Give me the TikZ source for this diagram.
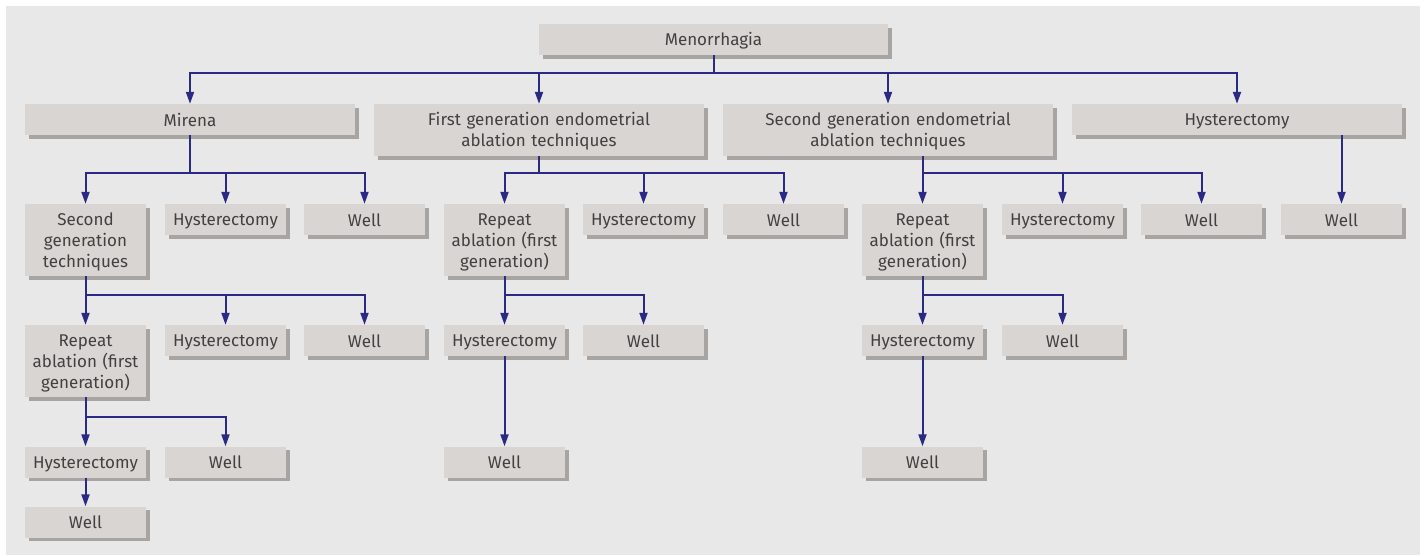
\documentclass[tikz,border=0pt]{standalone}
\usepackage{fontspec}
\setmainfont{Fira Sans}
\usetikzlibrary{arrows.meta,shadows}
\definecolor{panelgray}{HTML}{E8E8E8}
\definecolor{boxgray}{HTML}{D9D5D2}
\definecolor{boxshade}{HTML}{A8A4A2}
\definecolor{linkblue}{HTML}{2A2A85}
\definecolor{textgray}{HTML}{444040}
\newcommand{\boxstrut}{\rule[-3pt]{0pt}{19pt}}
\tikzset{
  box/.style={fill=boxgray, text=textgray, align=center, inner xsep=1pt, inner ysep=0pt,
    text width=119pt, minimum height=31pt,
    font=\fontsize{17}{21}\selectfont,
    execute at begin node=\boxstrut, execute at end node=\boxstrut,
    drop shadow={shadow xshift=3.5pt, shadow yshift=-3.5pt, fill=boxshade, opacity=1}},
  widebox/.style={box, text width=328pt},
  topbox/.style={box, text width=347pt},
  link/.style={draw=linkblue, line width=2pt},
  arr/.style={link, -{Triangle[length=12pt,width=8pt]}}
}
\begin{document}
\begin{tikzpicture}[x=1pt,y=-1pt]
\useasboundingbox (0,0) rectangle (1426,555);
\fill[panelgray] (6,6) rectangle (1420,555);

% top levels
\node[topbox] (men) at (713.5,39.5) {Menorrhagia};
\node[widebox] (mir) at (190,119.5) {Mirena};
\node[widebox, minimum height=52pt] (fg) at (539,130) {First generation endometrial\\ablation techniques};
\node[widebox, minimum height=52pt] (sg) at (888,130) {Second generation endometrial\\ablation techniques};
\node[widebox] (hys) at (1237,119.5) {Hysterectomy};

% second row
\node[box, minimum height=72pt] (m1) at (85.5,240) {Second\\generation\\techniques};
\node[box] (m2) at (225.5,219.5) {Hysterectomy};
\node[box] (m3) at (364.5,219.5) {Well};
\node[box, minimum height=72pt] (f1) at (504.5,240) {Repeat\\ablation (first\\generation)};
\node[box] (f2) at (643.5,219.5) {Hysterectomy};
\node[box] (f3) at (783.5,219.5) {Well};
\node[box, minimum height=72pt] (s1) at (922.5,240) {Repeat\\ablation (first\\generation)};
\node[box] (s2) at (1062.5,219.5) {Hysterectomy};
\node[box] (s3) at (1201.5,219.5) {Well};
\node[box] (h1) at (1341.5,219.5) {Well};

% third row
\node[box, minimum height=72pt] (m1a) at (85.5,361) {Repeat\\ablation (first\\generation)};
\node[box] (m1b) at (225.5,340.5) {Hysterectomy};
\node[box] (m1c) at (364.5,340.5) {Well};
\node[box] (f1a) at (504.5,340.5) {Hysterectomy};
\node[box] (f1b) at (643.5,340.5) {Well};
\node[box] (s1a) at (922.5,340.5) {Hysterectomy};
\node[box] (s1b) at (1062.5,340.5) {Well};

% fourth and fifth rows
\node[box] (m1a1) at (85.5,462) {Hysterectomy};
\node[box] (m1a2) at (225.5,462) {Well};
\node[box] (f1a1) at (504.5,462) {Well};
\node[box] (s1a1) at (922.5,462) {Well};
\node[box] (m1a1a) at (85.5,522) {Well};

% branch points
\coordinate (b0) at (713.5,73);
\coordinate (bm) at (190,173);
\coordinate (bf) at (539,173);
\coordinate (bs) at (922.5,173);
\coordinate (bm1) at (85.5,295);
\coordinate (bf1) at (504.5,295);
\coordinate (bs1) at (922.5,295);
\coordinate (bm1a) at (85.5,417);

% connectors
\draw[link] (men.south) -- (b0);
\draw[arr] (b0) -| (mir.north);
\draw[arr] (b0) -| (fg.north);
\draw[arr] (b0) -| (sg.north);
\draw[arr] (b0) -| (hys.north);

\draw[link] (mir.south) -- (bm);
\draw[arr] (bm) -| (m1.north);
\draw[arr] (bm) -| (m2.north);
\draw[arr] (bm) -| (m3.north);

\draw[link] (fg.south) -- (bf);
\draw[arr] (bf) -| (f1.north);
\draw[arr] (bf) -| (f2.north);
\draw[arr] (bf) -| (f3.north);

\draw[arr] (sg.south -| s1.north) -- (s1.north);
\draw[arr] (bs) -| (s2.north);
\draw[arr] (bs) -| (s3.north);

\draw[arr] (hys.south -| h1.north) -- (h1.north);

\draw[arr] (m1.south) -- (m1a.north);
\draw[arr] (bm1) -| (m1b.north);
\draw[arr] (bm1) -| (m1c.north);

\draw[arr] (f1.south) -- (f1a.north);
\draw[arr] (bf1) -| (f1b.north);

\draw[arr] (s1.south) -- (s1a.north);
\draw[arr] (bs1) -| (s1b.north);

\draw[arr] (m1a.south) -- (m1a1.north);
\draw[arr] (bm1a) -| (m1a2.north);

\draw[arr] (m1a1.south) -- (m1a1a.north);
\draw[arr] (f1a.south) -- (f1a1.north);
\draw[arr] (s1a.south) -- (s1a1.north);
\end{tikzpicture}
\end{document}
